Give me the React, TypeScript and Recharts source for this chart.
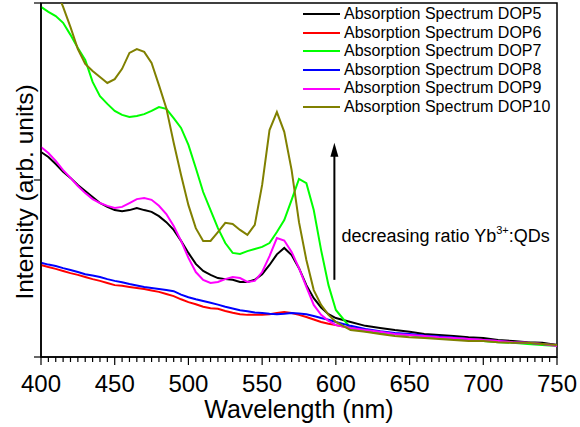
import React from 'react';
import {
  LineChart,
  Line,
  XAxis,
  YAxis,
  Legend,
  Label,
  ReferenceArea,
  ReferenceLine,
} from 'recharts';

const FONT = '"Liberation Sans", Arial, sans-serif';

// wavelength (nm)
const wavelengths = [
  400, 405, 410, 415, 420, 425, 430, 435, 440, 445, 450, 455, 460, 465, 470, 475, 480, 485, 490, 495,
  500, 505, 510, 515, 520, 525, 530, 535, 540, 545, 550, 555, 560, 565, 570, 575, 580, 585, 590, 595,
  600, 610, 620, 630, 640, 650, 660, 670, 680, 690, 700, 710, 720, 730, 740, 750,
];

// intensity, arb. units (0 = axis bottom, 100 = frame top)
const dop5 = [
  57.9, 56.5, 54.5, 52.3, 50.6, 48.6, 46.9, 45.2, 43.5, 42.4, 41.5, 41.2, 41.5, 42.1, 41.5, 41.0, 39.8, 38.1, 35.9, 32.8,
  29.4, 26.3, 24.3, 23.2, 22.3, 22.0, 21.8, 21.2, 21.2, 21.8, 23.4, 26.0, 29.0, 30.8, 28.8, 25.1, 20.3, 16.6, 14.0, 12.1,
  11.0, 9.9, 8.8, 8.2, 7.6, 7.1, 6.5, 6.2, 5.9, 5.6, 5.4, 4.8, 4.5, 4.2, 4.0, 3.4,
];
const dop6 = [
  26.0, 25.4, 24.9, 24.3, 23.7, 23.2, 22.6, 22.0, 21.5, 20.9, 20.3, 20.1, 19.8, 19.5, 19.2, 18.8, 18.4, 17.8, 17.2, 16.3,
  15.5, 14.9, 14.2, 13.8, 13.6, 13.0, 12.5, 12.1, 11.9, 11.9, 11.9, 12.1, 12.4, 12.7, 12.4, 11.9, 11.3, 10.6, 9.9, 9.4,
  9.0, 8.2, 7.6, 7.1, 6.5, 6.2, 5.9, 5.6, 5.4, 5.1, 4.8, 4.5, 4.2, 4.0, 3.7, 3.4,
];
const dop7 = [
  98.9, 97.5, 96.3, 94.4, 91.0, 87.3, 83.9, 77.7, 73.7, 71.5, 69.5, 68.4, 67.8, 68.1, 68.6, 69.5, 70.6, 70.1, 67.5, 64.7,
  59.9, 53.4, 46.6, 41.5, 36.4, 32.2, 29.4, 29.1, 29.9, 30.5, 31.1, 32.2, 35.3, 38.7, 44.4, 50.3, 49.1, 41.5, 30.2, 20.3,
  13.3, 8.2, 7.3, 6.8, 6.5, 6.2, 5.6, 5.4, 5.1, 4.8, 4.5, 4.2, 4.0, 3.7, 3.4, 3.1,
];
const dop8 = [
  26.6, 26.1, 25.7, 25.1, 24.6, 24.0, 23.4, 23.0, 22.6, 22.0, 21.5, 21.1, 20.6, 20.2, 19.8, 19.5, 19.2, 18.9, 18.6, 17.6,
  16.9, 16.3, 15.8, 15.3, 14.8, 14.2, 13.7, 13.2, 12.9, 12.6, 12.4, 12.2, 12.1, 12.2, 12.4, 12.3, 12.1, 11.6, 11.0, 10.5,
  9.9, 8.8, 7.9, 7.3, 6.8, 6.5, 6.1, 5.8, 5.5, 5.1, 4.8, 4.5, 4.2, 4.0, 3.7, 3.4,
];
const dop9 = [
  59.3, 57.6, 55.4, 52.8, 50.6, 48.3, 46.3, 44.6, 43.5, 42.7, 42.1, 42.4, 43.5, 44.6, 44.9, 44.4, 42.7, 40.4, 37.0, 32.8,
  28.0, 24.0, 21.8, 20.9, 21.2, 22.0, 22.6, 22.3, 21.2, 21.5, 24.0, 28.5, 33.6, 32.9, 29.7, 25.1, 19.8, 14.7, 11.9, 10.2,
  9.0, 8.2, 7.6, 7.1, 6.5, 6.2, 5.9, 5.6, 5.4, 5.1, 4.8, 4.5, 4.2, 4.0, 3.7, 3.1,
];
const dop10 = [
  115, 109, 104, 98.9, 93.2, 87.0, 82.8, 80.8, 79.1, 77.4, 78.5, 81.4, 85.9, 87.0, 86.2, 83.1, 76.8, 70.3, 60.5, 51.4,
  42.9, 36.4, 32.8, 32.8, 35.3, 37.9, 37.6, 35.9, 34.5, 37.3, 48.6, 64.1, 69.2, 63.6, 52.8, 38.1, 27.4, 18.9, 14.7, 11.9,
  9.9, 7.6, 7.1, 6.5, 5.9, 5.6, 5.4, 5.1, 4.8, 4.5, 4.5, 4.2, 4.0, 4.0, 3.7, 3.4,
];

const series = [
  { key: 'dop5', name: 'Absorption Spectrum DOP5', color: '#000000', values: dop5 },
  { key: 'dop6', name: 'Absorption Spectrum DOP6', color: '#ff0000', values: dop6 },
  { key: 'dop7', name: 'Absorption Spectrum DOP7', color: '#00ff00', values: dop7 },
  { key: 'dop8', name: 'Absorption Spectrum DOP8', color: '#0000ff', values: dop8 },
  { key: 'dop9', name: 'Absorption Spectrum DOP9', color: '#ff00ff', values: dop9 },
  { key: 'dop10', name: 'Absorption Spectrum DOP10', color: '#808000', values: dop10 },
];

const xTicks = Array.from({ length: 71 }, (_, i) => 400 + i * 5);

const data = wavelengths.map((w, i) => {
  const row: Record<string, number> = { w };
  series.forEach((s) => {
    row[s.key] = s.values[i];
  });
  return row;
});

const WaveTick = (props: any) => {
  const { x, y, payload } = props;
  const major = payload.value % 50 === 0;
  return (
    <g>
      <line x1={x} x2={x} y1={y} y2={y + (major ? 8 : 5)} stroke="#000" strokeWidth={1.2} />
      {major && (
        <text x={x} y={y + 35} textAnchor="middle" fontSize={24} fontFamily={FONT} fill="#000">
          {payload.value}
        </text>
      )}
    </g>
  );
};

const LegendBox = () => (
  <div style={{ fontFamily: FONT, fontSize: 16, color: '#000' }}>
    {series.map((s) => (
      <div key={s.key} style={{ display: 'flex', alignItems: 'center', height: 18.6 }}>
        <svg width={41} height={4} style={{ display: 'block' }}>
          <line x1={3} x2={40} y1={2} y2={2} stroke={s.color} strokeWidth={2} />
        </svg>
        <span style={{ marginLeft: 3, lineHeight: '18.6px', whiteSpace: 'nowrap' }}>{s.name}</span>
      </div>
    ))}
  </div>
);

const ArrowNote = (p: any) => {
  const { x1, y1, x2, y2 } = p;
  return (
    <g>
      <line x1={x1} y1={y1} x2={x2} y2={y2 + 10} stroke="#000" strokeWidth={2} />
      <path d={`M${x2 - 4},${y2 + 14} L${x2},${y2} L${x2 + 4},${y2 + 14} Z`} fill="#000" />
      <text x={x1 + 7} y={y1 - 38} fontSize={18} fontFamily={FONT} fill="#000">
        decreasing ratio Yb
        <tspan dy={-8} fontSize={11}>3+</tspan>
        <tspan dy={8}>:QDs</tspan>
      </text>
    </g>
  );
};

const App = () => {
  return (
    <div style={{ position: 'absolute', left: 0, top: 0, width: 580, height: 427, background: '#fff' }}>
      <LineChart width={580} height={427} data={data} margin={{ top: 3, right: 23, bottom: 0, left: 0 }}>
        <XAxis
          dataKey="w"
          type="number"
          domain={[400, 750]}
          ticks={xTicks}
          interval={0}
          height={70}
          tickSize={0}
          tickMargin={0}
          tick={<WaveTick />}
          axisLine={{ stroke: '#000', strokeWidth: 1.5 }}
        >
          <Label
            content={(lp: any) => {
              const vb = lp.viewBox;
              return (
                <text
                  x={vb.x + vb.width / 2}
                  y={vb.y + 61}
                  textAnchor="middle"
                  fontSize={25}
                  fontFamily={FONT}
                  fill="#000"
                >
                  Wavelength (nm)
                </text>
              );
            }}
          />
        </XAxis>
        <YAxis
          type="number"
          domain={[0, 100]}
          ticks={[0, 50, 100]}
          allowDataOverflow
          width={41}
          tickSize={7}
          tickFormatter={() => ''}
          tickLine={{ stroke: '#000', strokeWidth: 1.2 }}
          axisLine={{ stroke: '#000', strokeWidth: 1.5 }}
        >
          <Label
            content={(lp: any) => {
              const vb = lp.viewBox;
              const cy = vb.y + vb.height / 2 + 12;
              return (
                <text
                  transform={`translate(33,${cy}) rotate(-90)`}
                  textAnchor="middle"
                  fontSize={24.5}
                  fontFamily={FONT}
                  fill="#000"
                >
                  Intensity (arb. units)
                </text>
              );
            }}
          />
        </YAxis>
        <ReferenceArea x1={400} x2={750} y1={0} y2={100} fill="none" stroke="#000" strokeWidth={1.5} />
        {series.map((s) => (
          <Line
            key={s.key}
            dataKey={s.key}
            name={s.name}
            stroke={s.color}
            strokeWidth={2}
            dot={false}
            type="linear"
            isAnimationActive={false}
          />
        ))}
        <ReferenceLine
          segment={[
            { x: 599, y: 21.8 },
            { x: 599, y: 60.5 },
          ]}
          shape={ArrowNote}
        />
        <Legend
          layout="horizontal"
          align="center"
          verticalAlign="middle"
          content={<LegendBox />}
          wrapperStyle={{ top: 5, left: 300, width: 260, height: 115 }}
        />
      </LineChart>
    </div>
  );
};

export default App;
